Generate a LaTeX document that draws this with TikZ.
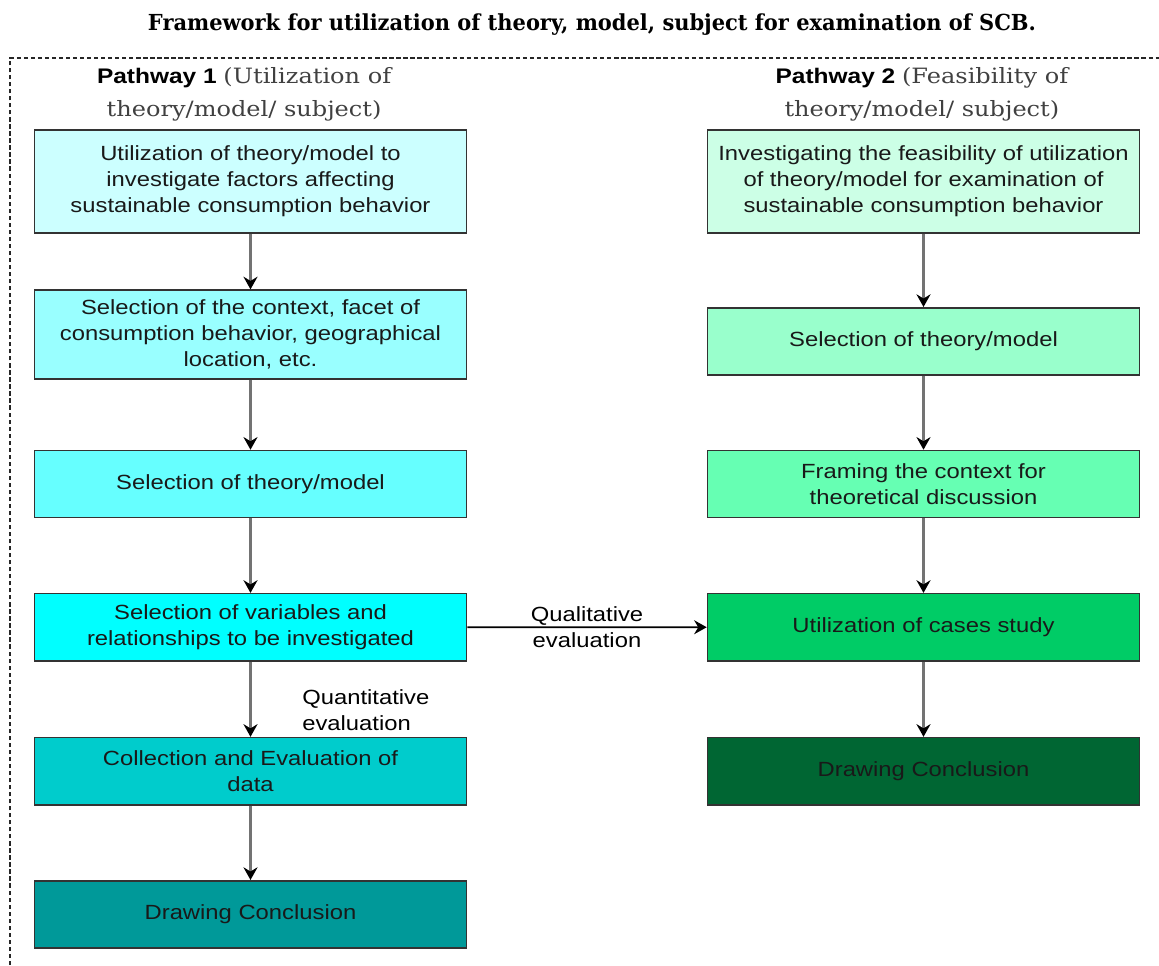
\documentclass[tikz,border=0pt]{standalone}
\usepackage{fontspec}
\setmainfont{Liberation Sans}[FakeStretch=1.16]
\newfontfamily\headserif{DejaVu Serif}[FakeStretch=1.14]
\newfontfamily\titleserif{DejaVu Serif}[FakeStretch=0.95]
\usetikzlibrary{positioning,arrows.meta}
\definecolor{leftA}{HTML}{CCFFFF}
\definecolor{leftB}{HTML}{99FFFF}
\definecolor{leftC}{HTML}{66FFFF}
\definecolor{leftD}{HTML}{00FFFF}
\definecolor{leftE}{HTML}{00CCCC}
\definecolor{leftF}{HTML}{009999}
\definecolor{rightA}{HTML}{CCFFE6}
\definecolor{rightB}{HTML}{99FFCC}
\definecolor{rightC}{HTML}{66FFB3}
\definecolor{rightD}{HTML}{00CC66}
\definecolor{rightE}{HTML}{006633}

\begin{document}
\begin{tikzpicture}[
    >={Stealth[color=black,length=9pt,width=10pt,inset=3pt]},
    box/.style={draw=black!80, line width=1.1pt, minimum width=10.8cm, align=center,
      text=black!90, font=\fontsize{14.6}{18.5}\selectfont, inner sep=2pt},
    link/.style={->, draw=black!55, line width=1.6pt},
    head/.style={align=center, inner sep=0pt, font=\fontsize{15}{23}\selectfont},
  ]
  \useasboundingbox (0,0) rectangle (28.975,-24.125);

  \node[font=\titleserif\bfseries\fontsize{15.7}{20}\selectfont] (title) at (14.8,-0.625)
    {Framework for utilization of theory, model, subject for examination of SCB.};
  \draw[dash pattern=on 3pt off 2pt, draw=black!85, line width=0.8pt] (0.25,-24.125) -- (0.25,-1.45) -- (28.975,-1.45);

  % pathway 1
  \node[box, fill=leftA, minimum height=2.575cm] (l1) at (6.2625,-4.5375)
    {Utilization of theory/model to\\investigate factors affecting\\sustainable consumption behavior};
  \node[box, fill=leftB, minimum height=2.22cm, below=1.39cm of l1] (l2)
    {Selection of the context, facet of\\consumption behavior, geographical\\location, etc.};
  \node[box, fill=leftC, minimum height=1.68cm, below=1.75cm of l2] (l3) {Selection of theory/model};
  \node[box, fill=leftD, minimum height=1.68cm, below=1.86cm of l3] (l4)
    {Selection of variables and\\relationships to be investigated};
  \node[box, fill=leftE, minimum height=1.68cm, below=1.88cm of l4] (l5)
    {Collection and Evaluation of\\data};
  \node[box, fill=leftF, minimum height=1.68cm, below=1.86cm of l5] (l6) {Drawing Conclusion};

  % pathway 2
  \node[box, fill=rightA, minimum height=2.575cm] (r1) at (23.0875,-4.5375)
    {Investigating the feasibility of utilization\\of theory/model for examination of\\sustainable consumption behavior};
  \node[box, fill=rightB, minimum height=1.68cm, below=1.83cm of r1] (r2) {Selection of theory/model};
  \node[box, fill=rightC, minimum height=1.68cm, below=1.85cm of r2] (r3)
    {Framing the context for\\theoretical discussion};
  \node[box, fill=rightD, minimum height=1.68cm, below=1.86cm of r3] (r4) {Utilization of cases study};
  \node[box, fill=rightE, minimum height=1.68cm, below=1.88cm of r4] (r5) {Drawing Conclusion};

  \node[head, above=0.2cm of l1, xshift=-0.16cm] (p1)
    {\textbf{Pathway 1} {\headserif\color{black!75}(Utilization of}\\{\headserif\color{black!75}theory/model/ subject)}};
  \node[head, above=0.2cm of r1, xshift=-0.04cm] (p2)
    {\textbf{Pathway 2} {\headserif\color{black!75}(Feasibility of}\\{\headserif\color{black!75}theory/model/ subject)}};

  \draw[link] (l1) -- (l2);
  \draw[link] (l2) -- (l3);
  \draw[link] (l3) -- (l4);
  \draw[link] (l4) -- node[pos=0.65, right, xshift=1.15cm, align=left,
    font=\fontsize{14.6}{18.5}\selectfont] {Quantitative\\evaluation} (l5);
  \draw[link] (l5) -- (l6);

  \draw[link] (r1) -- (r2);
  \draw[link] (r2) -- (r3);
  \draw[link] (r3) -- (r4);
  \draw[link] (r4) -- (r5);

  \draw[->, line width=1.2pt] (l4) -- node[align=center, font=\fontsize{14.6}{18.5}\selectfont] {Qualitative\\evaluation} (r4);
\end{tikzpicture}
\end{document}
